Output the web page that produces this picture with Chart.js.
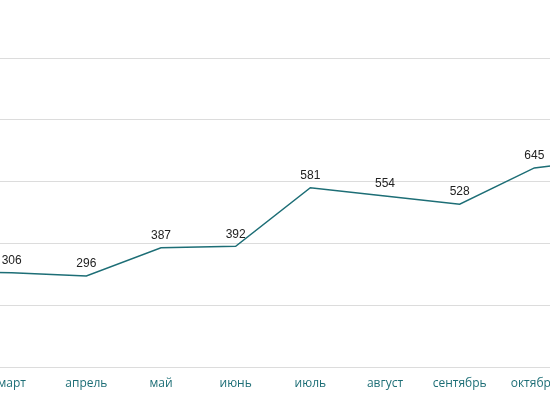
<!DOCTYPE html>
<html>
<head>
<meta charset="utf-8">
<script src="https://cdn.jsdelivr.net/npm/chart.js@4.4.1/dist/chart.umd.min.js"></script>
<style>
    html, body { margin: 0; padding: 0; background: #fff; }
    /* the chart is wider than the window, like a scrolled strip */
    #wrap { position: relative; width: 550px; height: 410px; overflow: hidden; }
    #chart { position: absolute; top: 0; left: 0; }
</style>
</head>
<body>
<div id="wrap"><canvas id="chart" width="672" height="410"></canvas></div>
<script>
// --- Data ---
const months = ['февраль', 'март', 'апрель', 'май', 'июнь', 'июль', 'август', 'сентябрь', 'октябрь', 'ноябрь'];
const values = [310, 306, 296, 387, 392, 581, 554, 528, 645, 675];
const yMin = 0;
const yMax = 1000;
const yStep = 200;

const TEAL = '#1d6e76';
const MARCH_X = 12; // where 'март' sits in the visible window

// value labels above each point
const valueLabels = {
    id: 'valueLabels',
    afterDatasetsDraw(chart) {
        const ctx = chart.ctx;
        const meta = chart.getDatasetMeta(0);
        ctx.save();
        ctx.font = '12px "Liberation Sans", Arial, sans-serif';
        ctx.fillStyle = '#222';
        ctx.textAlign = 'center';
        ctx.textBaseline = 'middle';
        meta.data.forEach((pt, i) => {
            ctx.fillText(String(values[i]), pt.x, pt.y - 12);
        });
        ctx.restore();
    }
};

const canvas = document.getElementById('chart');
const chart = new Chart(canvas.getContext('2d'), {
    type: 'line',
    data: {
        labels: months,
        datasets: [{
            data: values,
            borderColor: TEAL,
            borderWidth: 1.5,
            pointRadius: 0,
            tension: 0,
            fill: false
        }]
    },
    options: {
        responsive: false,
        animation: false,
        layout: { padding: { top: 58, bottom: 18, left: 0, right: 0 } },
        plugins: {
            legend: { display: false },
            tooltip: { enabled: false }
        },
        scales: {
            x: {
                offset: false,
                grid: { display: false },
                border: { display: false },
                ticks: {
                    color: TEAL,
                    padding: 1,
                    maxRotation: 0,
                    autoSkip: false,
                    font: { family: '"Open Sans", sans-serif', size: 12 }
                },
                afterFit: (scale) => {
                    scale.paddingLeft = 0;
                    scale.paddingRight = 0;
                }
            },
            y: {
                min: yMin,
                max: yMax,
                ticks: { display: false, stepSize: yStep },
                border: { display: false },
                grid: { color: '#dcdcdc', lineWidth: 1, drawTicks: false }
            }
        }
    },
    plugins: [valueLabels]
});

// shift the canvas so 'март' lands at the window's left edge
canvas.style.left = (MARCH_X - chart.scales.x.getPixelForValue(1)) + 'px';
</script>
</body>
</html>
